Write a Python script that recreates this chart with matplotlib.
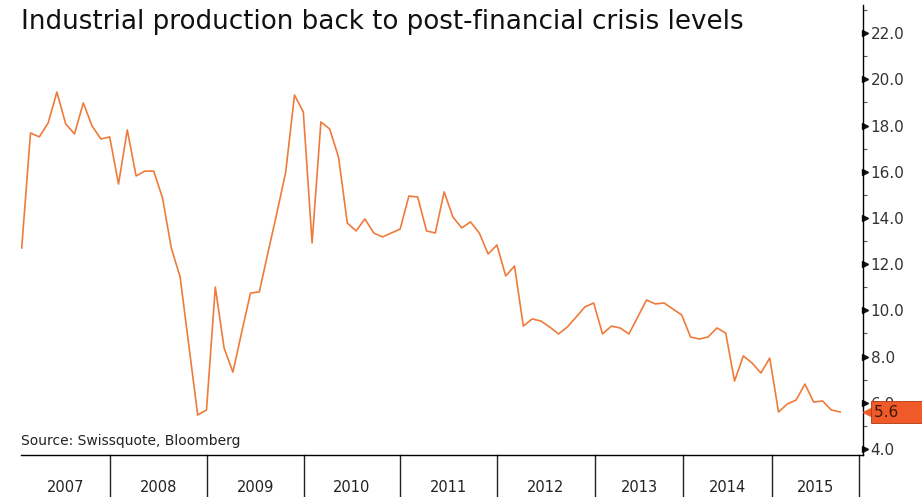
import matplotlib
matplotlib.use("Agg")
import matplotlib.pyplot as plt
from matplotlib.ticker import MultipleLocator, FormatStrFormatter

# YoY industrial production, one value per release
ip_yoy = [12.70, 17.68, 17.51, 18.11, 19.45, 18.07, 17.64, 18.98, 17.98, 17.42,
          17.51, 15.47, 17.81, 15.82, 16.03, 16.03, 14.87, 12.70, 11.45, 8.46,
          5.47, 5.69, 11.01, 8.37, 7.33, 9.06, 10.75, 10.80, 12.53, 14.22,
          15.99, 19.32, 18.59, 12.92, 18.16, 17.85, 16.64, 13.78, 13.44, 13.96,
          13.35, 13.18, 13.35, 13.52, 14.95, 14.91, 13.44, 13.35, 15.13, 14.04,
          13.57, 13.83, 13.35, 12.44, 12.83, 11.49, 11.92, 9.32, 9.63, 9.54,
          9.28, 8.98, 9.28, 9.71, 10.15, 10.32, 8.98, 9.32, 9.24, 8.98,
          9.71, 10.45, 10.28, 10.32, 10.06, 9.80, 8.85, 8.76, 8.85, 9.24,
          9.02, 6.94, 8.03, 7.72, 7.29, 7.94, 5.60, 5.95, 6.12, 6.81,
          6.03, 6.08, 5.69, 5.60]
years = ["2007", "2008", "2009", "2010", "2011", "2012", "2013", "2014", "2015"]
# where each year band starts on the release index axis (last = end of 2015)
year_edges = [-0.08, 10.03, 21.06, 32.08, 43.0, 54.0, 65.15, 75.15, 85.26, 95.1]

line_color = "#ef7b3a"
tag_color = "#f05a28"

fig = plt.figure(figsize=(9.22, 4.97), dpi=100)
ax = fig.add_axes([21 / 922, 42 / 497, 842 / 922, 450 / 497])

x = list(range(len(ip_yoy)))
ax.plot(x, ip_yoy, color=line_color, lw=1.2, zorder=3)

ax.set_xlim(-0.08, 95.6)
ax.set_ylim(3.74, 23.22)

for side in ["left", "top"]:
    ax.spines[side].set_visible(False)
ax.spines["bottom"].set_linewidth(1.0)
ax.spines["right"].set_linewidth(1.0)

ax.set_xticks([])
ax.yaxis.tick_right()
ax.yaxis.set_major_locator(MultipleLocator(2))
ax.yaxis.set_minor_locator(MultipleLocator(1))
ax.yaxis.set_major_formatter(FormatStrFormatter("%.1f"))
ax.tick_params(axis="y", which="major", length=0, pad=5.5, labelsize=11, labelcolor="#333333")
ax.tick_params(axis="y", which="minor", length=3, width=0.8, color="#555555")

# triangle tick marks
ytr = ax.get_yaxis_transform()
for v in range(4, 23, 2):
    ax.plot([1.0025], [v], marker=">", ms=4, color="#111111", transform=ytr, clip_on=False)

# year band dividers and labels under the axis
xtr = ax.get_xaxis_transform()
for e in year_edges[1:]:
    ax.plot([e, e], [0, -0.094], color="#222222", lw=1.0, transform=xtr, clip_on=False)
for i, yr in enumerate(years):
    mid = (year_edges[i] + year_edges[i + 1]) / 2
    ax.text(mid, -0.073, yr, transform=xtr, ha="center", va="center", fontsize=10.5, color="#222222")

# last value tag
last = ip_yoy[-1]
ax.plot([1.008], [last], marker="<", ms=10, color=tag_color, transform=ytr, clip_on=False, zorder=6)
ax.text(1.013, last, f"{last:.1f}     ", transform=ytr, ha="left", va="center", fontsize=11,
        color="#3a1a0a", zorder=7,
        bbox=dict(boxstyle="square,pad=0.2", fc=tag_color, ec="#b03a10", lw=0.6))

ax.text(0.0, 0.962, "Industrial production back to post-financial crisis levels", transform=ax.transAxes,
        ha="left", va="center", fontsize=18.8, color="#111111")
ax.text(0.0, 0.03, "Source: Swissquote, Bloomberg", transform=ax.transAxes,
        ha="left", va="center", fontsize=10, color="#222222")

fig.savefig("out.png", dpi=100)
